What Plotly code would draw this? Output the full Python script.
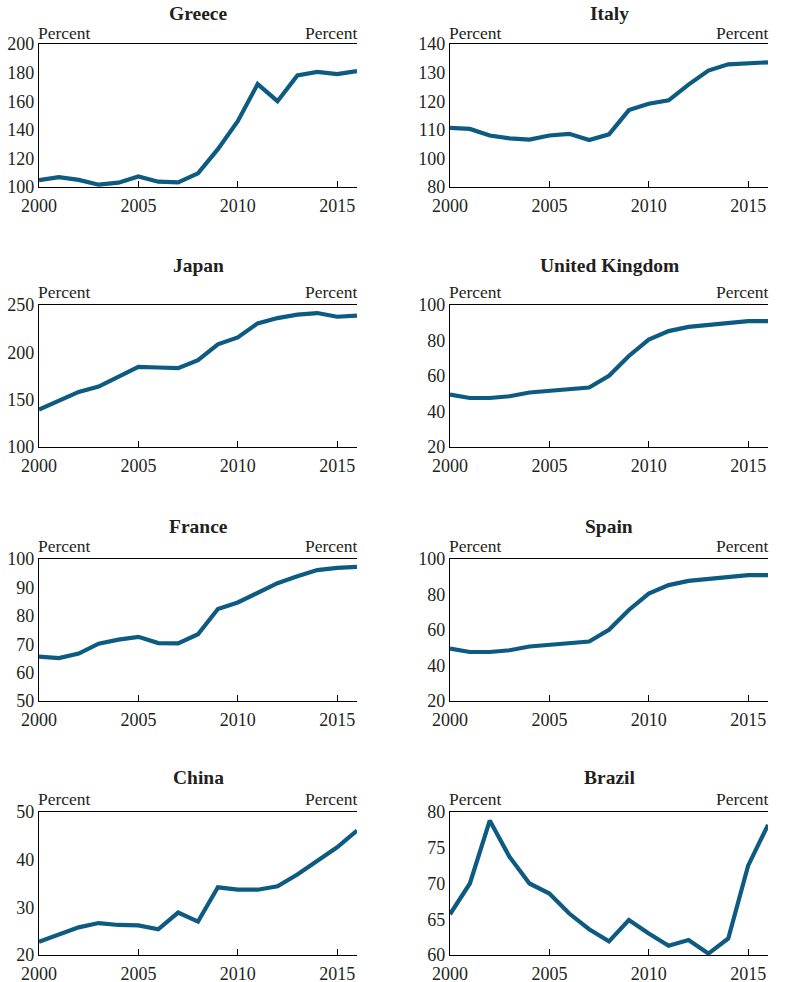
import plotly.graph_objects as go

years = list(range(2000, 2017))

countries = ["Greece", "Italy", "Japan", "United Kingdom", "France", "Spain", "China", "Brazil"]

greece = [104.8, 106.9, 105.0, 101.6, 103.0, 107.4, 103.7, 103.2, 109.5, 126.5, 146.0, 172.0, 160.0, 178.0, 180.5, 179.0, 181.0]
italy = [110.7, 110.3, 108.0, 107.0, 106.6, 108.0, 108.6, 106.4, 108.4, 116.9, 119.1, 120.3, 125.8, 130.7, 132.9, 133.1, 133.6]
japan = [139.5, 148.3, 158.2, 163.9, 174.1, 184.7, 184.0, 183.3, 191.8, 208.4, 215.8, 230.6, 236.2, 239.8, 241.5, 237.6, 238.7]
uk = [49.5, 47.6, 47.6, 48.6, 50.7, 51.8, 52.6, 53.5, 60.1, 71.3, 80.5, 85.3, 87.7, 88.7, 90.2, 90.9, 90.9]
france = [65.6, 65.1, 66.7, 70.2, 71.6, 72.6, 70.4, 70.3, 73.5, 82.4, 84.7, 87.9, 91.5, 93.9, 96.1, 96.9, 97.2]
spain = [49.5, 47.6, 47.6, 48.6, 50.7, 51.8, 52.6, 53.5, 60.1, 71.3, 80.5, 85.3, 87.7, 88.7, 90.2, 90.9, 90.9]
china = [22.8, 24.3, 25.8, 26.7, 26.3, 26.2, 25.4, 28.9, 27.0, 34.2, 33.7, 33.7, 34.4, 36.9, 39.8, 42.6, 46.1]
brazil = [65.7, 70.0, 78.8, 73.7, 70.0, 68.6, 65.8, 63.6, 61.9, 64.9, 63.0, 61.3, 62.1, 60.2, 62.3, 72.5, 78.2]

series = [greece, italy, japan, uk, france, spain, china, brazil]

# y tick values and labels per panel
tickvals = [
    [100, 120, 140, 160, 180, 200],
    [90, 100, 110, 120, 130, 140],
    [100, 150, 200, 250],
    [20, 40, 60, 80, 100],
    [50, 60, 70, 80, 90, 100],
    [20, 40, 60, 80, 100],
    [20, 30, 40, 50],
    [60, 65, 70, 75, 80],
]
ticktexts = [
    ["100", "120", "140", "160", "180", "200"],
    ["80", "100", "110", "120", "130", "140"],
    ["100", "150", "200", "250"],
    ["20", "40", "60", "80", "100"],
    ["50", "60", "70", "80", "90", "100"],
    ["20", "40", "60", "80", "100"],
    ["20", "30", "40", "50"],
    ["60", "65", "70", "75", "80"],
]
x_ticks = [2000, 2005, 2010, 2015]

W, H = 806, 982
COLOR = "#0d5b80"
FONT = "Liberation Serif"
TXT = "#231f20"

col_px = [(39, 357), (450, 768)]
row_px = [(44, 187), (305, 447), (559, 701), (812, 955)]
title_y = [13, 265, 526, 777]
pct_y = [33, 292, 546, 799]

fig = go.Figure()
layout = dict(
    width=W, height=H,
    margin=dict(l=0, r=0, t=0, b=0, autoexpand=False),
    paper_bgcolor="white", plot_bgcolor="white",
    showlegend=False,
    font=dict(family=FONT, color=TXT, size=17),
    annotations=[],
)

tf = dict(size=18, family=FONT, color=TXT)


def px_x(v):
    return v / W


def px_y(v):
    return 1 - v / H


for i, (name, vals) in enumerate(zip(countries, series)):
    r, c = divmod(i, 2)
    x0, x1 = col_px[c]
    yt, yb = row_px[r]
    xd = [px_x(x0), px_x(x1)]
    yd = [px_y(yb), px_y(yt)]
    xa = f"xaxis{i+1}" if i else "xaxis"
    ly = 2 * i + 1
    ry = 2 * i + 2
    lya = f"yaxis{ly}" if ly > 1 else "yaxis"
    rya = f"yaxis{ry}"
    xref = f"x{i+1}" if i else "x"
    lyref = f"y{ly}" if ly > 1 else "y"
    rng = [tickvals[i][0], tickvals[i][-1]]

    fig.add_trace(go.Scatter(x=years, y=vals, mode="lines", xaxis=xref, yaxis=lyref,
                             line=dict(color=COLOR, width=4.2), hoverinfo="skip", cliponaxis=True))

    layout[xa] = dict(domain=xd, anchor=lyref, range=[2000, 2016], tickvals=x_ticks,
                      showline=True, linecolor="black", linewidth=1.2, mirror=True,
                      ticks="inside", ticklen=6, tickcolor="black", tickwidth=1,
                      ticklabelstandoff=2, automargin=False,
                      showgrid=False, zeroline=False, tickfont=tf)
    layout[lya] = dict(domain=yd, anchor=xref, range=rng, tickvals=tickvals[i], ticktext=ticktexts[i],
                       showline=True, linecolor="black", linewidth=1.2, ticks="", automargin=False,
                       showgrid=False, zeroline=False, tickfont=tf)
    layout[rya] = dict(domain=yd, anchor=xref, overlaying=lyref, side="right", range=rng,
                       tickvals=tickvals[i], ticktext=ticktexts[i],
                       showline=True, linecolor="black", linewidth=1.2,
                       ticks="inside", ticklen=6, tickcolor="black", tickwidth=1, automargin=False,
                       showgrid=False, zeroline=False, tickfont=tf)

    layout["annotations"].append(dict(text=f"<b>{name}</b>", x=(xd[0] + xd[1]) / 2, y=px_y(title_y[r]),
                                      xref="paper", yref="paper", showarrow=False, xanchor="center",
                                      yanchor="middle", font=dict(size=19.5, family=FONT, color=TXT)))
    layout["annotations"].append(dict(text="Percent", x=xd[0], y=px_y(pct_y[r]), xref="paper", yref="paper",
                                      showarrow=False, xanchor="left", yanchor="middle", xshift=-3,
                                      font=dict(size=17.5, family=FONT, color=TXT)))
    layout["annotations"].append(dict(text="Percent", x=xd[1], y=px_y(pct_y[r]), xref="paper", yref="paper",
                                      showarrow=False, xanchor="right", yanchor="middle", xshift=3,
                                      font=dict(size=17.5, family=FONT, color=TXT)))

fig.update_layout(**layout)
fig.write_html("out.html",
               config={"displayModeBar": False, "staticPlot": True},
               post_script="document.body.style.margin='0';document.body.style.overflow='hidden';")
